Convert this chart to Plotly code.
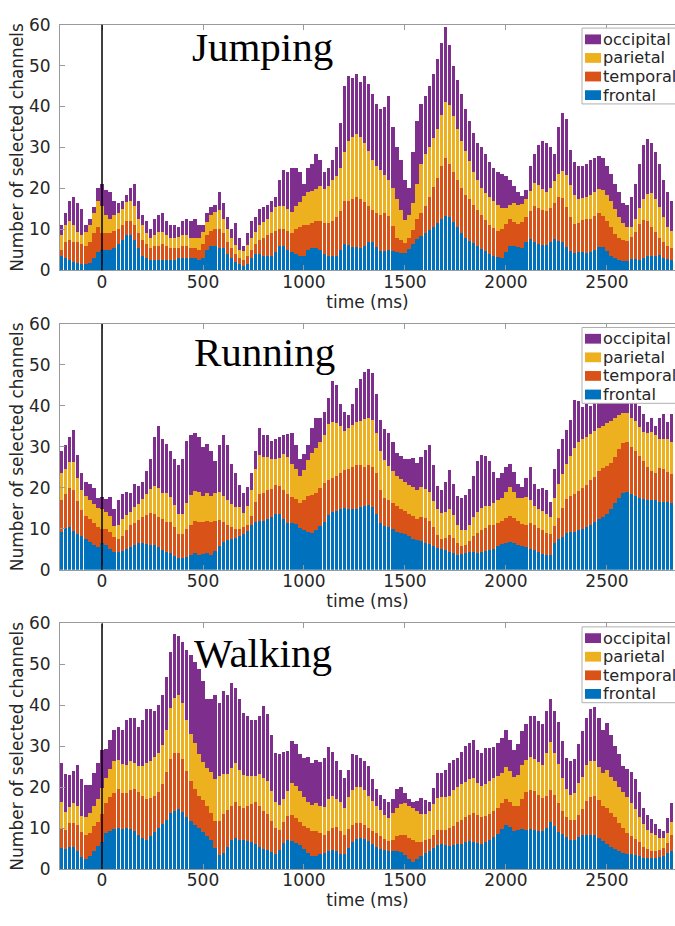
import plotly.graph_objects as go
from plotly.subplots import make_subplots

# Time bins (ms) relative to movement onset
time_ms = list(range(-200, 2840, 20))

# ---------------- Jumping ----------------
jumping_frontal = [
    3.5, 3, 2.5, 2, 1.8, 1.5, 1.5, 1.8, 3, 4.5,
    5, 5, 5, 5.5, 6.5, 7.5, 8.5, 8.5, 7.5, 5.5,
    3.5, 3, 2.5, 2.5, 2.5, 2.5, 2.5, 2.5, 2.5, 3,
    3, 3, 3, 3, 2.5, 3, 5, 6, 6, 5.5,
    5.5, 4, 3, 2, 1.5, 1, 1.5, 3, 4, 4,
    3.5, 3.5, 3.5, 4.5, 6, 6, 5, 4.5, 4, 3.5,
    3.5, 5, 5.5, 5.5, 5, 4, 3.5, 3.5, 3.5, 5,
    6.5, 6.2, 5.8, 5.6, 5.4, 6, 6.8, 6.8, 5.6, 4.8,
    4.6, 5, 4.7, 4.4, 4.2, 4.2, 5.2, 6.4, 7.6, 8.4,
    9, 9.8, 10.5, 11.6, 12.6, 13.2, 13, 11.8, 10.6, 9,
    7.9, 7.2, 6.6, 6, 5.3, 4.6, 4, 3.5, 3.2, 3,
    4.5, 6, 6, 5.6, 5.4, 7, 7.6, 7, 6.4, 6.2,
    6.2, 6.8, 7.6, 7.2, 6.8, 5.6, 4.8, 4.3, 4.4, 4.5,
    4.2, 4.5, 4.9, 5.6, 5.8, 4.6, 3.6, 3.1, 2.6, 2.2,
    2.2, 2.8, 2.8, 2.6, 3, 3.6, 3.6, 3.5, 3.8, 3,
    2.8, 2.4]
jumping_temporal = [
    1.5, 4, 5, 5, 5.2, 5, 4.5, 5.2, 6, 6,
    4, 4, 4, 4, 3.5, 3.5, 3.5, 3.5, 3.5, 3.5,
    4, 3.5, 3, 3.5, 3.5, 4, 3.5, 3, 3, 2.5,
    3, 3, 2.5, 2.5, 2.5, 3.5, 3.5, 3.5, 4, 4.5,
    3.5, 3, 2.5, 2, 1.5, 1.5, 2, 2, 2.5, 3.5,
    4.5, 5, 5.5, 5, 4, 4, 4.5, 4.5, 6, 7,
    7.5, 6, 6, 6.5, 7, 7.5, 8, 8.5, 9.5, 9.5,
    10.5, 10.6, 11.6, 12.4, 12, 10.7, 8.8, 7.8, 8.4, 8.6,
    9.4, 8.2, 6.1, 3.6, 3.3, 2.5, 2.8, 3.4, 4.9, 5.6,
    6.6, 8.2, 9.8, 10.9, 12.9, 14.3, 13, 12.2, 11.4, 11.2,
    10.6, 10.1, 9.4, 8.6, 8.1, 7.6, 7, 6.8, 6.4, 7,
    6.9, 6.6, 5.9, 5.6, 6.4, 6, 6.8, 8.6, 8.8, 8.4,
    8.2, 8.4, 8.9, 10.6, 10.8, 9.9, 8.2, 6.9, 7.2, 7.7,
    8.4, 8.1, 8.4, 8.4, 7.5, 7.4, 6.9, 5.7, 5.4, 5.2,
    5, 5.4, 6.6, 8.7, 9.4, 8.4, 7, 5.9, 4.2, 3.8,
    3.2, 3.1]
jumping_parietal = [
    3.6, 4, 4.5, 4, 2.4, 2.1, 3.4, 4, 5, 6.5,
    6.8, 4.4, 3.6, 3.9, 4, 4, 4.6, 5, 4.8, 3.6,
    3.5, 2.5, 2.3, 2.6, 3.4, 2.9, 2.6, 2.3, 2.3, 2.7,
    2.6, 2.6, 2.3, 2.3, 2.8, 2.9, 3.3, 3.9, 4.2, 4.6,
    3.6, 3.2, 2.3, 2.2, 2, 2.1, 2.7, 2.8, 2.9, 3.5,
    3.8, 4.1, 5.2, 5.9, 5.8, 5.8, 5.5, 5.2, 5.8, 6.1,
    7.2, 8, 7.9, 7.8, 8.6, 8.3, 9.1, 10, 10, 10.5,
    12, 14.7, 15.1, 15.2, 15.2, 14.5, 13.6, 12.4, 11.5, 11,
    9.2, 8.8, 9.2, 9.4, 7.3, 5.5, 5.4, 6.6, 8.5, 12,
    12.7, 12.2, 11.9, 12, 12.5, 13.5, 14.4, 13.8, 12.6, 11.4,
    10.7, 9.4, 8, 7.4, 6.8, 6.6, 7, 6.5, 6.4, 5.3,
    3.8, 3.3, 4.6, 4.8, 4.4, 4.4, 4.9, 5.6, 5.6, 5.2,
    4.8, 4.8, 5.4, 5.6, 6.6, 7.8, 7.9, 7.1, 5.9, 5.4,
    5.3, 5.7, 5.7, 5.9, 6.3, 6.4, 6.5, 6.2, 5, 4.2,
    3.4, 2.4, 3.2, 3.9, 4.9, 6.6, 8.2, 8, 7.4, 6.2,
    4.5, 4]
jumping_occipital = [
    2.4, 3, 5, 7, 7.1, 6.4, 1.6, 1.5, 1.5, 3,
    5.2, 6.1, 6.4, 3.6, 2.5, 2, 1.9, 3, 5.2, 4.4,
    2.5, 3, 2.2, 3.9, 4.1, 4.6, 3.4, 3.2, 3.2, 2.3,
    3.4, 3.9, 4.2, 4.7, 3.2, 1.6, 2.2, 2.1, 1.8, 4.4,
    3.9, 2.8, 2.2, 5.3, 3, 1.4, 2.8, 4.2, 3.6, 4,
    3.7, 3.4, 2.8, 2.6, 6.2, 8.7, 9, 10.8, 9.2, 7.4,
    2.8, 6, 6.6, 8.7, 6.4, 4.2, 4.4, 5, 7, 11,
    16, 16, 14.5, 14.8, 13.4, 16.3, 16.3, 16, 15, 15.1,
    16.8, 20.5, 15, 12.6, 12.2, 9.8, 6.6, 12.6, 15.5, 14.5,
    14.2, 14.8, 15.8, 17, 17.5, 18.5, 14.6, 12.2, 11.9, 11.4,
    10.3, 9.8, 9.5, 9, 9.8, 9.7, 8.5, 8.2, 8, 8.2,
    7.8, 6.1, 4, 3.2, 2, 2.1, 6.2, 7.3, 9.7, 11.7,
    11.8, 10, 6.6, 11.6, 14.3, 13.7, 8.6, 8.2, 8, 7.9,
    8.1, 8.7, 8.5, 8.1, 7.9, 7.1, 6.5, 6, 6, 4.9,
    5.4, 7.4, 8.4, 10.8, 13.2, 13.4, 12.2, 11.6, 10.6, 9,
    8.5, 7.5]

# ---------------- Running ----------------
running_frontal = [
    9.2, 10.2, 10.4, 9.5, 8.8, 8.2, 7.6, 6.8, 5.9, 5.6,
    6.5, 6.1, 5.1, 4.3, 4.2, 4.6, 5, 5.6, 6, 6.4,
    6.4, 6.2, 5.9, 6, 5.6, 4.9, 4.4, 4, 3.4, 2.9,
    2.8, 3.2, 3.7, 4, 3.7, 3.9, 4, 3.7, 4.6, 5.8,
    6.7, 7.2, 7.6, 7.8, 8.3, 8.8, 9.4, 11, 11.6, 11.9,
    12, 12.4, 12.8, 13.7, 13.6, 12.4, 11.5, 11.3, 11.2, 10.1,
    9.6, 9.2, 9, 9.7, 10.7, 11.6, 13.3, 14, 14.4, 14.8,
    15.1, 14.7, 14.7, 14.9, 15.3, 15.6, 15.9, 15.3, 13.5, 11.5,
    10.6, 10.3, 10, 9.2, 8.9, 8.6, 8.1, 7.5, 7.2, 6.9,
    6.6, 6.2, 5.7, 5.4, 5, 4.7, 4.4, 4.1, 3.7, 3.8,
    4.1, 4.4, 4.4, 4.1, 4.2, 4.5, 4.8, 5.1, 5.8, 6.2,
    6.6, 6.7, 6.4, 6.1, 5.8, 5.5, 5.1, 4.8, 4.2, 3.8,
    3.5, 3.6, 6.6, 7.4, 8, 8.9, 9.2, 9.2, 9.8, 10,
    10.3, 10.9, 11.6, 12.3, 12.8, 13.6, 14.9, 16.3, 17.6, 18.7,
    18.9, 18.4, 17.9, 17.6, 17.2, 17.1, 17.1, 17.1, 16.5, 16.6,
    16.5, 16.2]
running_temporal = [
    7.9, 8.2, 9.6, 10, 8, 6.3, 5.5, 5.6, 5.4, 4.8,
    3.5, 3.9, 4, 3.7, 3.2, 3.7, 4.6, 5.3, 5.5, 5.8,
    6.4, 7.2, 8, 7.6, 7.2, 7.5, 7.2, 7.6, 6.9, 5.9,
    5.9, 6.8, 7.3, 7.8, 8, 7.7, 8, 7.9, 7.4, 6.3,
    5, 3.6, 2.7, 2.2, 1.7, 1.6, 1.6, 2, 4.9, 6.6,
    6.7, 7.1, 6.9, 7.1, 6.9, 7.1, 7.1, 6.5, 6.1, 6.3,
    7.5, 8.7, 9.3, 9, 9.3, 9.5, 8.6, 8.3, 8.5, 8.9,
    9.2, 10, 10.3, 10.6, 10.3, 9.5, 9.6, 9.9, 10, 8,
    6.9, 6.6, 6.2, 6.3, 6, 5.7, 5.5, 5.5, 5.2, 6,
    6.1, 5.8, 4.6, 3.1, 2.6, 3.1, 4, 3.7, 2.9, 2,
    1.8, 2.5, 3.8, 4.9, 5.4, 5.7, 6, 5.7, 5.6, 5.8,
    6.1, 6.3, 6.1, 5.7, 5.3, 5.5, 6.4, 6.1, 6, 5.8,
    5.5, 5.2, 4, 5.2, 7, 8.3, 8.8, 9.4, 9.5, 9.9,
    10.5, 11.1, 11.1, 11.7, 12, 11.8, 11.2, 11.2, 11.8, 12.3,
    12.3, 11.5, 11.2, 10.1, 9.3, 8.1, 7, 6.5, 8.3, 8,
    7.4, 7.1]
running_parietal = [
    6.4, 6.1, 6.3, 6.7, 5.7, 5, 4.9, 4.6, 4.8, 4.7,
    4.7, 4, 3.9, 2.6, 3.6, 4, 3.7, 3.1, 3.9, 3.9,
    4.4, 5.2, 5.7, 6.9, 7.2, 6.4, 7.1, 6.2, 5.4, 4.7,
    5, 6.3, 7.2, 7.3, 7.2, 6.5, 6.7, 6.4, 6.8, 6.8,
    6.4, 6.2, 5.8, 5.3, 5.4, 3.5, 4.5, 6.5, 8, 9.5,
    8.9, 7.9, 7.3, 6.2, 6.8, 8.8, 8.8, 7.9, 7.4, 6.6,
    7.2, 9, 10.3, 11, 11.3, 11.9, 13.6, 13.7, 12.9, 11.3,
    9.6, 10, 10.3, 10.5, 10.8, 11.6, 11.5, 11.3, 10, 9.5,
    9.2, 8.5, 8, 7.3, 7.2, 7.2, 7.2, 7.2, 7.1, 7.2,
    7.1, 7, 6.4, 6.3, 6.3, 6.3, 6.3, 5.6, 4.4, 3.8,
    3.7, 4, 4.6, 5.2, 5.5, 5.3, 4.7, 5.4, 5.5, 5.6,
    6.2, 7.1, 6.4, 5.7, 6.4, 6.7, 5.5, 4.7, 4.7, 4.7,
    4.5, 4, 6.9, 8.4, 8.3, 8.6, 9.8, 11.2, 11.9, 12,
    11.7, 11.1, 11.2, 10.6, 10.4, 10.4, 10.3, 9.5, 8.3, 7.3,
    7.1, 7.2, 7.1, 7.2, 7.1, 8.1, 9.6, 9.4, 7, 7.3,
    8, 7.9]
running_occipital = [
    5.5, 6, 6.2, 7.8, 5.5, 4, 3.5, 4, 3.9, 2.4,
    3.1, 3.2, 4.8, 4.2, 6, 6.3, 5.7, 4.7, 5.6, 4.4,
    4.3, 5.4, 7.4, 12, 15, 13.2, 12, 11.2, 11.3, 12,
    13.3, 15.2, 14.8, 14.4, 13.6, 11.9, 12, 11, 7.7, 11.6,
    14.9, 13.5, 9.7, 8.2, 5.4, 4.8, 4.8, 4, 4.5, 6.5,
    5.4, 5.6, 4.5, 4.8, 5, 4.7, 5.8, 7.8, 5.8, 4,
    4, 3.6, 5.9, 7.3, 5.7, 5.6, 6.5, 10, 9.2, 5.5,
    4.6, 3.1, 5.2, 8.5, 10.1, 11.5, 12, 11.5, 9.5, 7.5,
    7.6, 8.1, 7, 5.7, 5.6, 5.5, 6.2, 7.1, 6.5, 7.4,
    9.4, 11.5, 8.8, 5.7, 5.6, 7.4, 9.6, 7.6, 7, 7.8,
    8.6, 8.8, 10.2, 12.3, 12.9, 12.2, 11, 7.6, 5.4, 5.9,
    6.1, 5.6, 4.9, 3.5, 2.7, 4.8, 8, 5.4, 4.8, 5.7,
    6, 3.7, 7, 8.5, 8.7, 8.2, 8.7, 11.7, 10, 7.9,
    8, 6.9, 7.1, 7.4, 5.8, 6.2, 4.6, 5, 5.3, 3.7,
    4.7, 4.9, 4.8, 5.1, 4.4, 2.7, 3.3, 2, 5.2, 6.1,
    4.1, 6.8]

# ---------------- Walking ----------------
walking_frontal = [
    5.2, 4.9, 5.4, 5.4, 4.5, 2.9, 2.5, 3.1, 4.5, 5.6,
    6.5, 8.8, 9.4, 9.9, 10, 9.7, 10, 9.7, 9.3, 8.4,
    7.5, 7.2, 8.1, 9.1, 10, 11, 12, 13.7, 14.3, 14.7,
    14, 12.8, 11.8, 10.8, 10, 9, 8, 7, 5.2, 3.5,
    3.8, 5.3, 7, 7.6, 7.2, 7, 6.8, 6.5, 6, 5.5,
    5, 4.6, 4.1, 3.6, 4.7, 6.4, 7.1, 6.9, 6.4, 5.8,
    4.8, 3.8, 3.2, 3.2, 3.6, 3.8, 4.4, 4.6, 4.5, 3.6,
    3.6, 5.1, 6.6, 7.4, 7.6, 7.4, 6.8, 6.2, 5.5, 5,
    4.7, 4.4, 4.4, 4.4, 4.1, 3.5, 2.4, 1.8, 2.4, 3.2,
    3.9, 4.4, 5.1, 5.8, 6, 5.8, 5.6, 5.9, 6, 6.2,
    6.6, 6.8, 6.7, 6.4, 6.1, 6.5, 7.2, 7.9, 8.6, 9.8,
    10.8, 10.2, 9.4, 9.6, 9.9, 9.6, 9.9, 9.5, 9.2, 9.2,
    10, 11.5, 10.5, 9.1, 8.5, 7.8, 7.1, 7.1, 7.9, 8.4,
    8.4, 8.4, 8.2, 7.5, 6.8, 6.1, 5.5, 5, 4.3, 4,
    3.7, 3.6, 3.4, 3.1, 2.8, 2.8, 2.6, 2.6, 3, 3.2,
    3.8, 4.4]
walking_temporal = [
    4.8, 4.6, 5.8, 5.9, 6.3, 6.1, 5.9, 5.6, 5.9, 6,
    7, 7.4, 8.2, 8.7, 9.5, 8.9, 8.5, 9.5, 10.2, 10.3,
    10.3, 9.9, 9.2, 8.8, 8.7, 9.8, 11.8, 13.3, 14, 13.6,
    13, 11.1, 9.7, 8.8, 7.8, 7.9, 7.4, 6.6, 6.5, 8.3,
    9.6, 9.1, 8.4, 8.7, 8.2, 8, 8.7, 9.3, 10.3, 9.8,
    9.3, 8.8, 7.7, 6.4, 4.8, 5.2, 5.9, 6.2, 6, 5.6,
    5.8, 6.3, 6, 6, 5.1, 4.6, 5, 5.4, 5.7, 5.6,
    4.8, 4.8, 4.1, 3.9, 3.7, 3.3, 3.2, 3.2, 3.2, 3.1,
    2.7, 2.4, 2.7, 3.6, 4.3, 4.8, 5.2, 5.2, 4.1, 3.4,
    3.1, 2.9, 3.1, 3.7, 3.6, 3.7, 4.4, 4.7, 5.4, 5.8,
    6, 6.4, 7, 6.7, 6.5, 6.4, 6.3, 6.3, 6.3, 6.3,
    6.3, 6.3, 5.9, 5.9, 7.3, 9.1, 9.4, 9.5, 9, 8.1,
    7.9, 7.8, 7.7, 7, 5.7, 5, 4.8, 4.8, 5.4, 6.2,
    8.2, 9.2, 9.6, 9.4, 8.7, 8.7, 8.2, 7.6, 7, 6,
    5.1, 4.4, 3.9, 3.4, 2.5, 2.1, 1.9, 1.8, 1.6, 2,
    2.6, 3.9]
walking_parietal = [
    6.3, 4.5, 3.9, 4.8, 4.7, 4, 4.2, 5.1, 4.9, 5.5,
    6.3, 6.1, 6.9, 7.8, 7.2, 7.1, 7, 7.2, 6.5, 6.4,
    7.3, 8.8, 9.1, 9.5, 9.6, 9.6, 10.2, 12.3, 13.4, 14.3,
    13.5, 12.4, 11.4, 11.2, 10.4, 9.3, 9.2, 10, 10.3, 10.9,
    9.7, 8.8, 9.4, 9.6, 8.8, 8, 7.2, 6.9, 6.4, 8,
    8, 8, 7.2, 6.3, 6.1, 5.5, 6, 7.8, 7.9, 7.7,
    6.9, 6.4, 6.4, 7, 6.6, 6.7, 7.6, 7.8, 7, 7.1,
    6.6, 7.8, 8.6, 8.7, 8.7, 8.7, 7.9, 7.2, 6.7, 6.3,
    5.7, 5.6, 6.6, 6.9, 7.4, 7.9, 7.9, 7.9, 7.7, 6.9,
    6.4, 6.8, 7.7, 7.9, 7.9, 8, 7.9, 8.6, 8.6, 8.7,
    8.7, 8.8, 8.6, 8, 7.8, 7.9, 8, 8, 7.9, 7.3,
    7.9, 7.5, 7.2, 7.4, 8.2, 8, 8, 8, 7.9, 8,
    10.4, 11.7, 10.2, 9.5, 8.1, 6.8, 6.2, 6.6, 7.7, 8,
    8.8, 8.8, 8.7, 8, 8, 9.3, 8.9, 8.8, 8.7, 8.7,
    8.7, 8.1, 7.4, 6.1, 5.6, 4.6, 4.2, 3.8, 3, 2.4,
    2.5, 3.1]
walking_occipital = [
    9.6, 9.2, 7.9, 7.9, 10, 9, 7.9, 6.7, 8.2, 8.8,
    9.3, 7, 7, 7.6, 8, 8.3, 11, 10.6, 11, 9.6,
    11.4, 13.1, 12.8, 11.3, 11.9, 12.1, 13, 13.7, 15.8, 14.4,
    15, 17.1, 19.5, 19.9, 20.7, 19.8, 16.9, 17.9, 20.6, 17.8,
    20.3, 19.3, 20.7, 18.3, 17.3, 15.2, 14.6, 13.7, 13.6, 14.1,
    17.5, 16.6, 13.8, 12, 12.4, 11.6, 9.8, 10.3, 10.3, 9,
    9.6, 10.8, 10.4, 10.4, 10.8, 12, 12.7, 10.7, 9.3, 8,
    7.2, 6.4, 8.7, 7.8, 7.2, 7.1, 7.3, 5.4, 4.2, 3.8,
    3.9, 3.9, 3.3, 4.7, 4.2, 2.3, 1.6, 1.5, 2.4, 3.8,
    3.4, 2.4, 3.9, 6.1, 5.9, 6.7, 8, 7.4, 7.2, 7.8,
    8.8, 8.9, 9.2, 8, 8, 8.7, 8, 7.6, 8, 8.6,
    8.9, 7.5, 6.7, 7.6, 8.3, 8.8, 10, 10.4, 10.1, 10.2,
    10.3, 10.5, 10.1, 10.3, 9, 7.6, 8.2, 8.5, 9.6, 11.1,
    11.6, 12.8, 13, 11.9, 10.4, 11.6, 10.1, 8.6, 8, 6.4,
    7, 7.7, 7.3, 6.2, 4.1, 3.8, 3.5, 2.9, 2.2, 1.6,
    3.5, 4.8]

regions = ["frontal", "temporal", "parietal", "occipital"]
region_colors = {
    "frontal": "#0072BD",
    "temporal": "#D95319",
    "parietal": "#EDB120",
    "occipital": "#7E2F8E",
}

panels = [
    ("Jumping", {"frontal": jumping_frontal, "temporal": jumping_temporal,
                 "parietal": jumping_parietal, "occipital": jumping_occipital}),
    ("Running", {"frontal": running_frontal, "temporal": running_temporal,
                 "parietal": running_parietal, "occipital": running_occipital}),
    ("Walking", {"frontal": walking_frontal, "temporal": walking_temporal,
                 "parietal": walking_parietal, "occipital": walking_occipital}),
]

for _, series in panels:
    for r in regions:
        assert len(series[r]) == len(time_ms), (r, len(series[r]))

TEXT = "#262626"
AXIS = "#9a9a9a"
SANS = "DejaVu Sans, Verdana, sans-serif"
SERIF = "Times New Roman, Liberation Serif, serif"

fig = make_subplots(rows=3, cols=1)

for row, (label, series) in enumerate(panels, start=1):
    for r in regions:
        fig.add_trace(
            go.Bar(x=time_ms, y=series[r], name=r, marker_color=region_colors[r],
                   marker_line_width=0, showlegend=False),
            row=row, col=1)

# panel vertical extents (fraction of figure height)
domains = [[0.71274, 0.98380], [0.38229, 0.65335], [0.05184, 0.32289]]
title_pos = [(436, 54.6), (444, 53.2), (444, 52.9)]

for i in range(3):
    s = "" if i == 0 else str(i + 1)
    fig.update_xaxes(
        range=[-208, 2837], tickvals=[0, 500, 1000, 1500, 2000, 2500],
        ticks="inside", ticklen=5, tickcolor=AXIS, showline=True, linecolor=AXIS,
        linewidth=1, mirror="ticks", showgrid=False, zeroline=False,
        tickfont=dict(family=SANS, size=17, color=TEXT), ticklabelstandoff=-4,
        title=dict(text="time (ms)", font=dict(family=SANS, size=17, color=TEXT), standoff=2),
        row=i + 1, col=1)
    fig.update_yaxes(
        range=[0, 60], tickvals=[0, 10, 20, 30, 40, 50, 60],
        ticks="inside", ticklen=5, tickcolor=AXIS, showline=True, linecolor=AXIS,
        linewidth=1, mirror=False, showgrid=False, zeroline=False, domain=domains[i],
        tickfont=dict(family=SANS, size=17, color=TEXT), ticklabelstandoff=5,
        title=dict(text="Number of selected channels",
                   font=dict(family=SANS, size=17, color=TEXT), standoff=0),
        row=i + 1, col=1)

    # onset marker at t = 0
    fig.add_shape(type="line", xref="x" + s, yref="y" + s + " domain",
                  x0=0, x1=0, y0=0, y1=1, line=dict(color="black", width=1.5),
                  layer="above")

    # condition label
    tx, ty = title_pos[i]
    fig.add_annotation(xref="x" + s, yref="y" + s, x=tx, y=ty, text=panels[i][0],
                       showarrow=False, xanchor="left", yanchor="middle",
                       font=dict(family=SERIF, size=41, color="black"))

    # legend box (region key)
    ph = 251.0
    pw = 615.0
    xr = "x" + s + " domain"
    yr = "y" + s + " domain"
    fig.add_shape(type="rect", xref=xr, yref=yr,
                  x0=(582 - 60) / pw, x1=1.05, y0=1 - 81 / ph, y1=1 - 3.5 / ph,
                  fillcolor="white", line=dict(color="#b0b0b0", width=1), layer="above")
    for k, r in enumerate(["occipital", "parietal", "temporal", "frontal"]):
        cy = 15 + 19 * k
        fig.add_shape(type="rect", xref=xr, yref=yr,
                      x0=(585 - 60) / pw, x1=(601 - 60) / pw,
                      y0=1 - (cy + 5) / ph, y1=1 - (cy - 5) / ph,
                      fillcolor=region_colors[r], line=dict(width=0), layer="above")
        fig.add_annotation(xref=xr, yref=yr, x=(603 - 60) / pw, y=1 - cy / ph,
                           text=r, showarrow=False, xanchor="left", yanchor="middle",
                           xshift=-2,
                           font=dict(family=SANS, size=16.2, color=TEXT))

fig.update_layout(
    width=675, height=926,
    margin=dict(l=60, r=0, t=0, b=0),
    barmode="stack", bargap=0.18,
    plot_bgcolor="white", paper_bgcolor="white",
    showlegend=False,
)

fig.write_html("out.html")
